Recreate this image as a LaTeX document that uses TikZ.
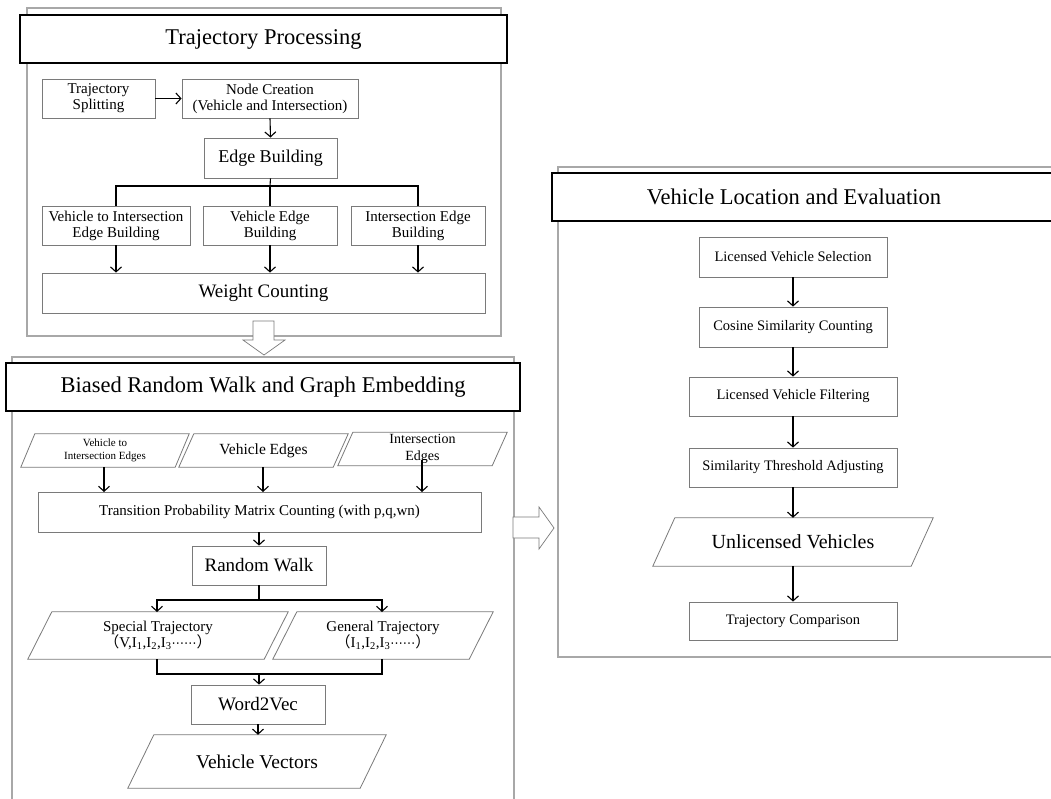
\documentclass[tikz,border=0pt]{standalone}
\usepackage{fontspec}
\setmainfont{Liberation Serif}
\newfontfamily\cjk{Noto Sans CJK SC}
\newfontfamily\dvs{DejaVu Sans}
\usetikzlibrary{arrows.meta}
\definecolor{boxgray}{HTML}{7A7A7A}
\definecolor{framegray}{HTML}{A8A8A8}
\tikzset{
  x=1pt,y=-1pt,
  box/.style={draw=boxgray,line width=0.8pt,rectangle,inner sep=1pt,align=center,font=\fontsize{15}{16}\selectfont},
  rbox/.style={box,font=\fontsize{14.5}{16}\selectfont},
  titlebox/.style={draw=black,line width=1.4pt,rectangle,inner sep=0pt,align=center,font=\fontsize{22.5}{24}\selectfont},
  titletext/.style={rectangle,inner sep=0pt,align=center,font=\fontsize{22.5}{24}\selectfont},
  frame/.style={draw=framegray,line width=1.4pt},
  pg/.style={rectangle,inner sep=0pt,align=center,font=\fontsize{15}{16.5}\selectfont},
  pgline/.style={draw=boxgray,line width=0.8pt},
  conn/.style={draw=black,line width=1.1pt},
  arr/.style={conn,-{Straight Barb[length=5pt,width=11pt,line width=1.1pt]}},
  hollow/.style={draw=boxgray,line width=0.7pt,fill=white}
}
\newcommand\pgshape[2]{% name, slant
  \draw[pgline] ([xshift=#2/2]#1.north west) -- ([xshift=#2/2]#1.north east) -- ([xshift=-#2/2]#1.south east) -- ([xshift=-#2/2]#1.south west) -- cycle;}
\newcommand\middots{{\dvs\fontsize{12.5}{13}\selectfont ⋯⋯}}
\begin{document}
\begin{tikzpicture}
\useasboundingbox (0,0) rectangle (1051,798);
\clip (0,0) rectangle (1051,798);
\fill[white] (0,0) rectangle (1051,798);

% ---------------- Panel 1 ----------------
\draw[frame] (27,8) rectangle (501,336);
\node[titlebox,fill=white,minimum width=487,minimum height=48] (t1) at (263.5,39) {Trajectory Processing};
\node[box,minimum width=113,minimum height=39] (split) at (98.5,98.5) {Trajectory\\Splitting};
\node[box,minimum width=176,minimum height=39] (nodec) at (270,98.5) {Node Creation\\(Vehicle and Intersection)};
\node[box,minimum width=133,minimum height=40,font=\fontsize{18}{19}\selectfont] (edgeb) at (270.5,158) {Edge Building};
\node[box,minimum width=148,minimum height=39] (b1) at (116,225.5) {Vehicle to Intersection\\Edge Building};
\node[box,minimum width=134,minimum height=39] (b2) at (270,225.5) {Vehicle Edge\\Building};
\node[box,minimum width=134,minimum height=39] (b3) at (418,225.5) {Intersection Edge\\Building};
\node[box,minimum width=443,minimum height=40,font=\fontsize{19}{20}\selectfont] (weight) at (263.5,293) {Weight Counting};
\coordinate (bus1) at (270,186);
\draw[arr] (split.east) -- (nodec.west);
\draw[arr] (nodec.south) -- (edgeb.north);
\draw[conn] (edgeb.south) -- (bus1);
\draw[conn] (b1.north) -- (b1.north |- bus1) -- (b3.north |- bus1) -- (b3.north);
\draw[conn] (bus1) -- (b2.north);
\draw[arr] (b1.south) -- (b1.south |- weight.north);
\draw[arr] (b2.south) -- (b2.south |- weight.north);
\draw[arr] (b3.south) -- (b3.south |- weight.north);

% hollow arrow down
\draw[hollow] (253,321) -- (274,321) -- (274,340) -- (285,340) -- (264,355) -- (243,340) -- (253,340) -- cycle;

% ---------------- Panel 2 ----------------
\draw[frame] (12,810) -- (12,357) -- (514,357) -- (514,810);
\node[titlebox,fill=white,minimum width=514,minimum height=48] (t2) at (263,387) {Biased Random Walk and Graph Embedding};
\node[pg,minimum width=154,minimum height=33,font=\fontsize{11}{12.5}\selectfont] (p1) at (105,450.5) {Vehicle to\\Intersection Edges};
\pgshape{p1}{14}
\node[pg,minimum width=154,minimum height=33,font=\fontsize{15.5}{16}\selectfont] (p2) at (263.5,450.5) {Vehicle Edges};
\pgshape{p2}{15}
\node[pg,minimum width=154,minimum height=33,font=\fontsize{14}{17}\selectfont] (p3) at (422.5,449) {Intersection\\Edges};
\pgshape{p3}{15}
\node[box,minimum width=443,minimum height=40] (trans) at (259.5,512) {Transition Probability Matrix Counting (with p,q,wn)};
\node[box,minimum width=134,minimum height=39,font=\fontsize{19}{20}\selectfont] (rw) at (259,565.5) {Random Walk};
\node[pg,minimum width=236,minimum height=47] (spec) at (158,635.5) {Special Trajectory\\{\cjk （}V,I\textsubscript{1},I\textsubscript{2},I\textsubscript{3}\middots{\cjk ）}};
\pgshape{spec}{24}
\node[pg,minimum width=196,minimum height=47] (gen) at (383,635.5) {General Trajectory\\{\cjk （}I\textsubscript{1},I\textsubscript{2},I\textsubscript{3}\middots{\cjk ）}};
\pgshape{gen}{24}
\node[box,minimum width=134,minimum height=39,font=\fontsize{19}{20}\selectfont] (w2v) at (258,704.5) {Word2Vec};
\node[pg,minimum width=232,minimum height=53,font=\fontsize{19.5}{21}\selectfont] (vv) at (257,761.5) {Vehicle Vectors};
\pgshape{vv}{26}
\draw[arr] (104,467) -- (104,492);
\draw[arr] (263,467) -- (263,492);
\draw[arr] (422,460) -- (422,492);
\draw[arr] (trans.south -| rw.north) -- (rw.north);
\coordinate (bus2) at (259,600);
\coordinate (bus3) at (259,674);
\draw[conn] (rw.south) -- (bus2);
\draw[arr] (bus2) -- (157,600) -- (157,612);
\draw[arr] (bus2) -- (382,600) -- (382,612);
\draw[conn] (157,659) -- (157,674) -- (382,674) -- (382,659);
\draw[arr] (bus3) -- (bus3 |- w2v.north);
\draw[arr] (w2v.south) -- (w2v.south |- vv.north);

% hollow arrow right
\draw[hollow] (513,517) -- (539,517) -- (539,507) -- (554,528) -- (539,549) -- (539,538) -- (513,538) -- cycle;

% ---------------- Panel 3 ----------------
\draw[frame] (1060,657) -- (558,657) -- (558,167) -- (1060,167);
\draw[draw=black,line width=1.4pt,fill=white] (552,173) rectangle (1065,221);
\node[titletext] (t3) at (794,197) {Vehicle Location and Evaluation};
\node[rbox,minimum width=188,minimum height=40] (s1) at (793,257) {Licensed Vehicle Selection};
\node[rbox,minimum width=188,minimum height=40] (s2) at (793,327) {Cosine Similarity Counting};
\node[rbox,minimum width=208,minimum height=39] (s3) at (793,396.5) {Licensed Vehicle Filtering};
\node[rbox,minimum width=208,minimum height=39] (s4) at (793,467.5) {Similarity Threshold Adjusting};
\node[pg,minimum width=258,minimum height=48,font=\fontsize{20}{22}\selectfont] (s5) at (793,542) {Unlicensed Vehicles};
\pgshape{s5}{22}
\node[rbox,minimum width=208,minimum height=38] (s6) at (793,621) {Trajectory Comparison};
\draw[arr] (s1) -- (s2);
\draw[arr] (s2) -- (s3);
\draw[arr] (s3) -- (s4);
\draw[arr] (s4) -- (s5);
\draw[arr] (s5) -- (s6);
\end{tikzpicture}
\end{document}
